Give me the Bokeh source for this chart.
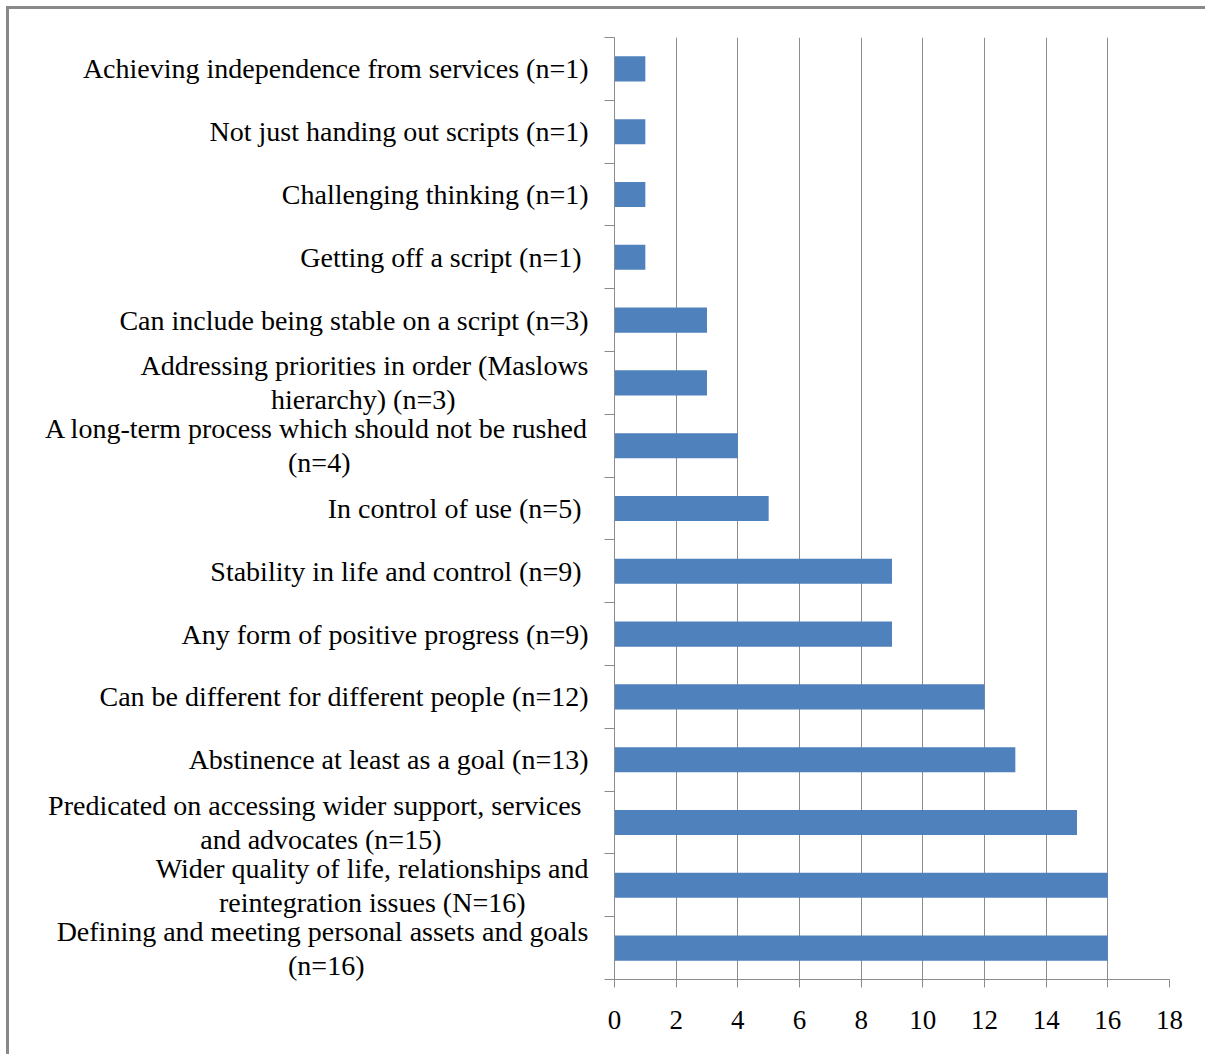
from bokeh.plotting import figure
from bokeh.models import Range1d, LinearAxis, FixedTicker, ColumnDataSource
from bokeh.embed import file_html
from bokeh.resources import INLINE

# categories listed top to bottom as in the chart
categories = [
    "Achieving independence from services (n=1)",
    "Not just handing out scripts (n=1)",
    "Challenging thinking (n=1)",
    "Getting off a script (n=1) ",
    "Can include being stable on a script (n=3)",
    "Addressing priorities in order (Maslows\nhierarchy) (n=3)",
    "A long-term process which should not be rushed\n(n=4)",
    "In control of use (n=5) ",
    "Stability in life and control  (n=9)",
    "Any form of positive progress (n=9)",
    "Can be different for different people (n=12)",
    "Abstinence at least as a goal (n=13)",
    "Predicated on accessing wider support, services \nand advocates (n=15)",
    "Wider quality of life, relationships and\nreintegration issues (N=16)",
    "Defining and meeting personal assets and goals\n(n=16)",
]
values = [1, 1, 1, 1, 3, 3, 4, 5, 9, 9, 12, 13, 15, 16, 16]
x_ticks = [0, 2, 4, 6, 8, 10, 12, 14, 16, 18]

# non-breaking spaces appended to a second line so it sits centred under the first
second_line_pad = {5: 19, 6: 34, 12: 21, 13: 9, 14: 32}

GRAY = "#8c8c8c"
FONT = "Liberation Serif"
NBSP = "\u00a0"

n = len(categories)
display = [lab + NBSP * second_line_pad.get(i, 0) for i, lab in enumerate(categories)]
# band centres, first category at the top
centres = [n - 1 - i + 0.5 for i in range(n)]
bounds = list(range(n + 1))
src = ColumnDataSource(dict(y=centres, val=values, cat=categories))

p = figure(width=1199, height=1048,
           y_range=Range1d(0, n),
           x_range=Range1d(0, 18),
           output_backend="svg", toolbar_location=None,
           y_axis_location=None,
           min_border_left=605, min_border_right=39,
           min_border_top=28, min_border_bottom=78)
p.margin = (6, 0, 0, 6)
p.styles = {"border-top": "3px solid #898989", "border-left": "3px solid #898989"}
p.outline_line_color = None
p.background_fill_color = "white"
p.border_fill_color = "white"

p.hbar(y="y", left=0, right="val", height=0.4, source=src,
       fill_color="#4F81BD", line_color=None)

# x axis
p.xaxis.ticker = FixedTicker(ticks=x_ticks)
p.xaxis.axis_line_color = GRAY
p.xaxis.major_tick_line_color = GRAY
p.xaxis.major_tick_out = 8
p.xaxis.major_tick_in = 0
p.xaxis.minor_tick_line_color = None
p.xaxis.major_label_text_font = FONT
p.xaxis.major_label_text_font_size = "27px"
p.xaxis.major_label_text_color = "black"
p.xaxis.major_label_standoff = 23

p.xgrid.ticker = FixedTicker(ticks=x_ticks)
p.xgrid.grid_line_color = GRAY
p.ygrid.visible = False

# category axis: labels at band centres, tick marks at band boundaries
cat_axis = LinearAxis(ticker=FixedTicker(ticks=centres, minor_ticks=bounds),
                      major_label_overrides={c: lab for c, lab in zip(centres, display)},
                      axis_line_color=GRAY,
                      major_tick_line_color=None,
                      major_tick_out=0, major_tick_in=0,
                      minor_tick_line_color=GRAY,
                      minor_tick_out=10, minor_tick_in=0,
                      major_label_standoff=16,
                      major_label_text_font=FONT,
                      major_label_text_font_size="28px",
                      major_label_text_color="black",
                      major_label_text_line_height=1.1)
p.add_layout(cat_axis, "left")

open("out.html", "w").write(file_html(p, INLINE))
